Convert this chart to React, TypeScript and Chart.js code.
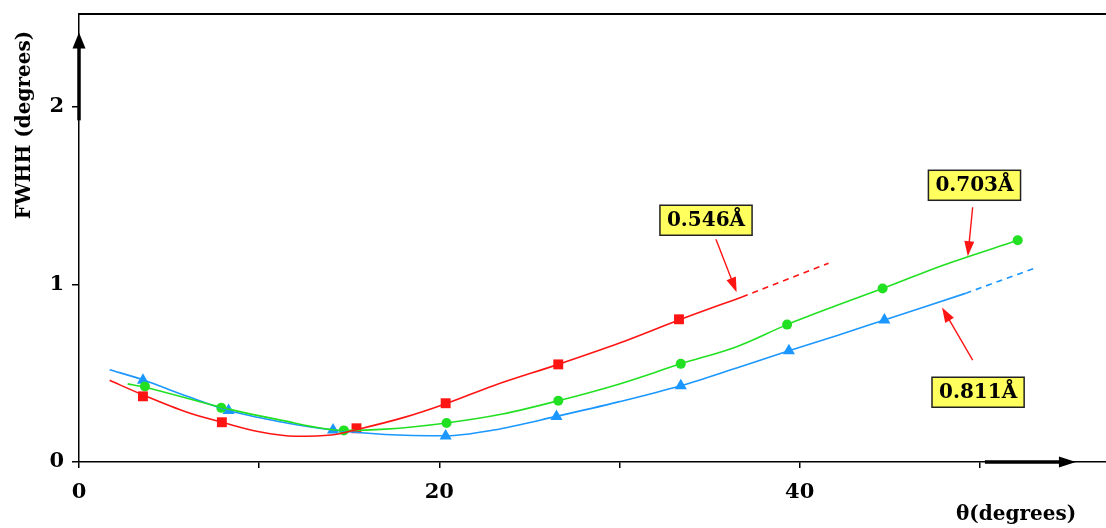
import React, { useEffect, useRef } from 'react';
import { Chart, registerables } from 'chart.js';

Chart.register(...registerables);

// ---- axis ticks ----
const xTickValues = [0, 10, 20, 30, 40, 50];
const xTickLabels = ['0', '', '20', '', '40', ''];
const yTickValues = [0, 1, 2];
const yTickLabels = ['0', '1', '2'];

// ---- measured points (markers) ----
const redMarkX = [3.55, 7.93, 15.4, 20.35, 26.6, 33.3];
const redMarkY = [0.37, 0.224, 0.19, 0.331, 0.55, 0.804];
const greenMarkX = [3.66, 7.9, 14.7, 20.4, 26.6, 33.4, 39.3, 44.6, 52.1];
const greenMarkY = [0.426, 0.305, 0.178, 0.22, 0.345, 0.553, 0.774, 0.977, 1.249];
const blueMarkX = [3.55, 8.3, 14.1, 20.35, 26.5, 33.4, 39.4, 44.7];
const blueMarkY = [0.46, 0.29, 0.18, 0.147, 0.257, 0.43, 0.627, 0.8];

// ---- fitted curves ----
const redCurveX = [1.7, 3.5, 6, 8, 10, 12, 14, 15.5, 18, 20.4, 23, 26.6, 30, 33.3, 36.8];
const redCurveY = [0.46, 0.38, 0.28, 0.222, 0.17, 0.145, 0.152, 0.185, 0.25, 0.33, 0.43, 0.55, 0.67, 0.8, 0.93];
const redDashX = [36.8, 41.6];
const redDashY = [0.93, 1.12];

const greenCurveX = [2.7, 3.7, 8, 11, 14.7, 17, 20.4, 23.5, 26.6, 30, 33.4, 36.5, 39.3, 42, 44.6, 48, 52.1];
const greenCurveY = [0.44, 0.42, 0.305, 0.24, 0.178, 0.185, 0.22, 0.27, 0.345, 0.44, 0.553, 0.65, 0.774, 0.88, 0.977, 1.11, 1.249];

const blueCurveX = [1.7, 3.5, 6, 8.3, 11, 14.1, 17, 20.4, 23, 26.5, 30, 33.4, 36.5, 39.4, 42, 44.7, 49.2];
const blueCurveY = [0.52, 0.465, 0.37, 0.29, 0.23, 0.18, 0.155, 0.148, 0.18, 0.257, 0.34, 0.43, 0.53, 0.627, 0.71, 0.8, 0.95];
const blueDashX = [49.2, 53];
const blueDashY = [0.95, 1.09];

// ---- annotations (wavelength labels) ----
const annoText = ['0.546Å', '0.703Å', '0.811Å'];
const annoBoxX = [34.8, 49.7, 49.9];
const annoBoxY = [1.362, 1.559, 0.393];
const annoTailX = [35.35, 49.6, 49.6];
const annoTailY = [1.255, 1.435, 0.574];
const annoHeadX = [36.5, 49.33, 47.9];
const annoHeadY = [0.956, 1.159, 0.871];

const xTitle = 'θ(degrees)';
const yTitle = 'FWHH (degrees)';

const RED = '#ff1414';
const GREEN = '#22e022';
const BLUE = '#1b97ff';
const FONT = "'DejaVu Serif', 'Liberation Serif', serif";

const zip = (xs: number[], ys: number[]) => xs.map((x, i) => ({ x, y: ys[i] }));

const curve = (xs: number[], ys: number[], color: string, dash: number[] = []) => ({
  data: zip(xs, ys),
  showLine: true,
  borderColor: color,
  borderWidth: 1.6,
  borderDash: dash,
  pointRadius: 0,
  pointHoverRadius: 0,
  cubicInterpolationMode: 'monotone' as const,
  fill: false,
});

const markers = (xs: number[], ys: number[], color: string, style: string, r: number) => ({
  data: zip(xs, ys),
  showLine: false,
  pointStyle: style,
  pointRadius: r,
  backgroundColor: color,
  borderColor: color,
  borderWidth: 0,
});

const decorPlugin = {
  id: 'decor',
  afterDraw(chart: any) {
    const { ctx, chartArea, scales } = chart;
    const xs = scales.x;
    const ys = scales.y;
    ctx.save();

    // top frame line
    ctx.strokeStyle = '#000';
    ctx.lineWidth = 2;
    ctx.beginPath();
    ctx.moveTo(chartArea.left, chartArea.top);
    ctx.lineTo(chartArea.right, chartArea.top);
    ctx.stroke();

    // y axis arrow
    const ax = xs.getPixelForValue(0);
    const yFrom = ys.getPixelForValue(1.925);
    const yTip = ys.getPixelForValue(2.42);
    ctx.fillStyle = '#000';
    ctx.lineWidth = 3.5;
    ctx.beginPath();
    ctx.moveTo(ax, yFrom);
    ctx.lineTo(ax, yTip + 10);
    ctx.stroke();
    ctx.beginPath();
    ctx.moveTo(ax, yTip);
    ctx.lineTo(ax - 6.5, yTip + 16);
    ctx.lineTo(ax + 6.5, yTip + 16);
    ctx.closePath();
    ctx.fill();

    // x axis arrow
    const ay = ys.getPixelForValue(0);
    const xFrom = xs.getPixelForValue(50.28);
    const xTip = xs.getPixelForValue(55.33);
    ctx.lineWidth = 3.5;
    ctx.beginPath();
    ctx.moveTo(xFrom, ay);
    ctx.lineTo(xTip - 10, ay);
    ctx.stroke();
    ctx.beginPath();
    ctx.moveTo(xTip, ay);
    ctx.lineTo(xTip - 17, ay - 5.5);
    ctx.lineTo(xTip - 17, ay + 5.5);
    ctx.closePath();
    ctx.fill();

    // axis titles
    ctx.fillStyle = '#000';
    ctx.font = `bold 20px ${FONT}`;
    ctx.textAlign = 'center';
    ctx.textBaseline = 'middle';
    ctx.fillText(xTitle, 1016, 515);

    ctx.save();
    ctx.translate(25, 125);
    ctx.rotate(-Math.PI / 2);
    ctx.font = `bold 20px ${FONT}`;
    ctx.fillText(yTitle, 0, 0);
    ctx.restore();

    // annotations
    for (let i = 0; i < annoText.length; i++) {
      const tx = xs.getPixelForValue(annoTailX[i]);
      const ty = ys.getPixelForValue(annoTailY[i]);
      const hx = xs.getPixelForValue(annoHeadX[i]);
      const hy = ys.getPixelForValue(annoHeadY[i]);
      const ang = Math.atan2(hy - ty, hx - tx);
      const hl = 15;
      const hw = 5;
      ctx.strokeStyle = RED;
      ctx.fillStyle = RED;
      ctx.lineWidth = 1.4;
      ctx.beginPath();
      ctx.moveTo(tx, ty);
      ctx.lineTo(hx - Math.cos(ang) * (hl - 2), hy - Math.sin(ang) * (hl - 2));
      ctx.stroke();
      ctx.beginPath();
      ctx.moveTo(hx, hy);
      ctx.lineTo(hx - Math.cos(ang) * hl - Math.sin(ang) * hw, hy - Math.sin(ang) * hl + Math.cos(ang) * hw);
      ctx.lineTo(hx - Math.cos(ang) * hl + Math.sin(ang) * hw, hy - Math.sin(ang) * hl - Math.cos(ang) * hw);
      ctx.closePath();
      ctx.fill();

      const bx = xs.getPixelForValue(annoBoxX[i]);
      const by = ys.getPixelForValue(annoBoxY[i]);
      ctx.font = `bold 20px ${FONT}`;
      const w = ctx.measureText(annoText[i]).width + 14;
      const h = 30;
      ctx.fillStyle = '#ffff5e';
      ctx.fillRect(bx - w / 2, by - h / 2, w, h);
      ctx.strokeStyle = '#222';
      ctx.lineWidth = 1.5;
      ctx.strokeRect(bx - w / 2, by - h / 2, w, h);
      ctx.fillStyle = '#000';
      ctx.textAlign = 'center';
      ctx.textBaseline = 'middle';
      ctx.fillText(annoText[i], bx, by + 1);
    }
    ctx.restore();
  },
};

export default function App() {
  const ref = useRef<HTMLCanvasElement | null>(null);

  useEffect(() => {
    if (!ref.current) return;
    const tickFont = { family: FONT, size: 21, weight: 'bold' as const };
    const chart = new Chart(ref.current, {
      type: 'scatter',
      data: {
        datasets: [
          curve(redCurveX, redCurveY, RED),
          curve(redDashX, redDashY, RED, [6, 5]),
          curve(greenCurveX, greenCurveY, GREEN),
          curve(blueCurveX, blueCurveY, BLUE),
          curve(blueDashX, blueDashY, BLUE, [6, 5]),
          markers(redMarkX, redMarkY, RED, 'rect', 7),
          markers(greenMarkX, greenMarkY, GREEN, 'circle', 5),
          markers(blueMarkX, blueMarkY, BLUE, 'triangle', 7),
        ] as any,
      },
      options: {
        animation: false,
        responsive: false,
        maintainAspectRatio: false,
        layout: { autoPadding: false, padding: { top: 14, right: 0, left: 0, bottom: 0 } },
        plugins: {
          legend: { display: false },
          tooltip: { enabled: false },
        },
        scales: {
          x: {
            type: 'linear',
            min: 0,
            max: 57,
            afterFit: (s: any) => { s.height = 66; s.paddingRight = 0; },
            afterBuildTicks: (s: any) => { s.ticks = xTickValues.map((v) => ({ value: v })); },
            border: { color: '#000', width: 1.5 },
            grid: { drawOnChartArea: false, drawTicks: true, tickLength: 6, color: '#000', lineWidth: 1.5 },
            ticks: {
              autoSkip: false,
              maxRotation: 0,
              padding: 12,
              color: '#000',
              font: tickFont,
              callback: (v: any) => {
                const i = xTickValues.indexOf(Number(v));
                return i >= 0 ? xTickLabels[i] : '';
              },
            },
          },
          y: {
            type: 'linear',
            min: 0,
            max: 2.524,
            afterFit: (s: any) => { s.width = 79; s.paddingTop = 0; },
            afterBuildTicks: (s: any) => { s.ticks = yTickValues.map((v) => ({ value: v })); },
            border: { color: '#000', width: 1.5 },
            grid: { drawOnChartArea: false, drawTicks: true, tickLength: 7, color: '#000', lineWidth: 1.5 },
            ticks: {
              autoSkip: false,
              padding: 8,
              color: '#000',
              font: tickFont,
              callback: (v: any) => {
                const i = yTickValues.indexOf(Number(v));
                return i >= 0 ? yTickLabels[i] : '';
              },
            },
          },
        },
      },
      plugins: [decorPlugin],
    });
    return () => chart.destroy();
  }, []);

  return (
    <div style={{ position: 'fixed', left: 0, top: 0, width: 1106, height: 528, background: '#fff' }}>
      <canvas ref={ref} width={1106} height={528} style={{ display: 'block' }} />
    </div>
  );
}
